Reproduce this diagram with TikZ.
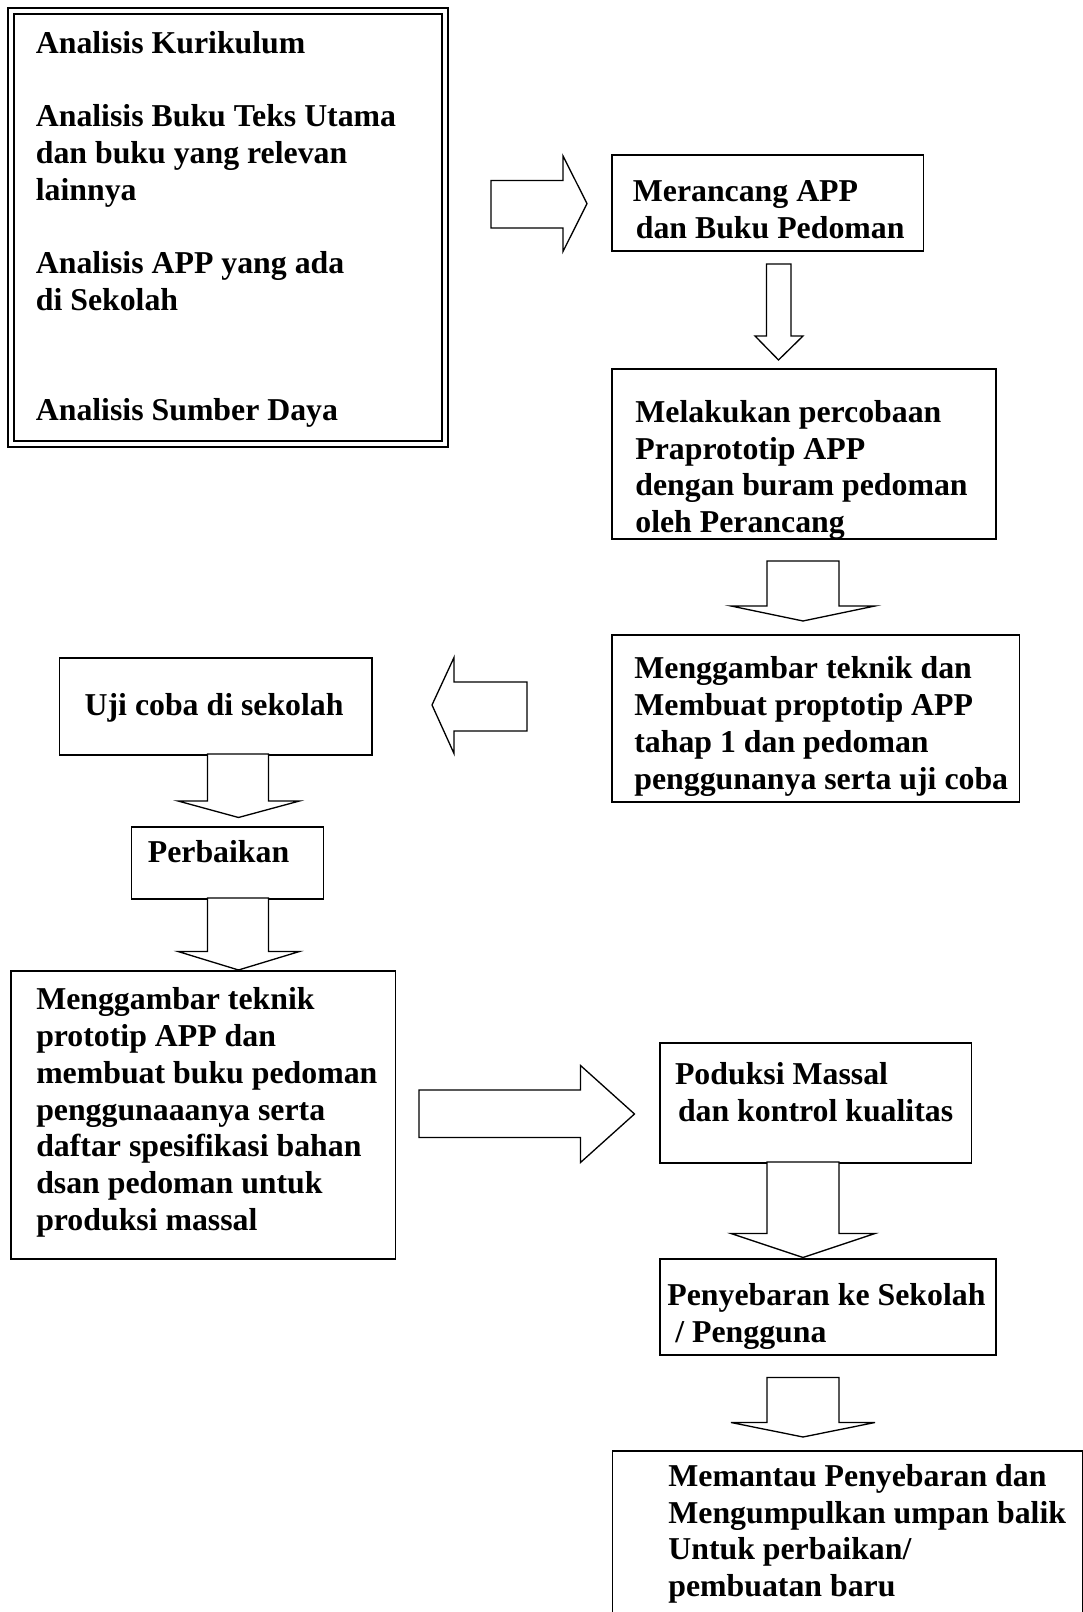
\documentclass[tikz,border=0pt]{standalone}
\usepackage{fontspec}
\setmainfont{Liberation Serif}
\usepackage{tikz}

\begin{document}
\begin{tikzpicture}[box/.style={draw,line width=0.9pt,anchor=north west,inner sep=0pt},
  txt/.style={anchor=north west,inner sep=0pt,align=left,font=\fontsize{18.1pt}{20.9pt}\selectfont\bfseries},
  blk/.style={draw,fill=white,line width=0.75pt,line join=miter}]
\useasboundingbox (0,0) rectangle (21.66,32.24);
\clip (0,0) rectangle (21.66,32.24);
\node[box,double,double distance=2.5pt,minimum width=8.68cm,minimum height=8.66cm] (analisis) at (0.2,32.04) {};
\node[box,minimum width=6.23cm,minimum height=1.92cm] (rancang) at (12.22,29.16) {};
\node[box,minimum width=7.68cm,minimum height=3.39cm] (coba) at (12.22,24.87) {};
\node[box,minimum width=8.15cm,minimum height=3.34cm] (gambar) at (12.22,19.55) {};
\node[box,minimum width=6.248cm,minimum height=1.93cm] (uji) at (1.172,19.09) {};
\node[box,minimum width=3.84cm,minimum height=1.44cm] (perbaikan) at (2.616,15.72) {};
\node[box,minimum width=7.682cm,minimum height=5.756cm] (prototip) at (0.208,12.836) {};
\node[box,minimum width=6.23cm,minimum height=2.4cm] (produksi) at (13.18,11.40) {};
\node[box,minimum width=6.72cm,minimum height=1.92cm] (sebar) at (13.18,7.08) {};
\node[box,minimum width=9.4cm,minimum height=4cm] (pantau) at (12.23,3.24) {};
\node[txt] (analisis-t) at (0.71,31.694) {\strut Analisis Kurikulum\\ \strut\\
  Analisis Buku Teks Utama\\ dan buku yang relevan\\ lainnya\\ \strut\\
  Analisis APP yang ada\\ di Sekolah\\ \strut\\ \strut\\ Analisis Sumber Daya};
\node[txt] (rancang-t) at (12.65,28.724) {\strut Merancang APP\\ \hspace*{1.7pt}dan Buku Pedoman};
\node[txt] (coba-t) at (12.70,24.314) {\strut Melakukan percobaan\\ Praprototip APP\\
  dengan buram pedoman\\ oleh Perancang};
\node[txt] (gambar-t) at (12.68,19.184) {\strut Menggambar teknik dan\\ Membuat proptotip APP\\
  tahap 1 dan pedoman\\ penggunanya serta uji coba};
\node[txt] (uji-t) at (1.686,18.444) {\strut Uji coba di sekolah};
\node[txt] (perbaikan-t) at (2.95,15.514) {\strut Perbaikan};
\node[txt] (prototip-t) at (0.718,12.564) {\strut Menggambar teknik\\ prototip APP dan\\
  membuat buku pedoman\\ penggunaaanya serta\\ daftar spesifikasi bahan\\
  dsan pedoman untuk\\ produksi massal};
\node[txt] (produksi-t) at (13.494,11.074) {\strut Poduksi Massal\\ \hspace*{1.7pt}dan kontrol kualitas};
\node[txt] (sebar-t) at (13.34,6.654) {\strut Penyebaran ke Sekolah\\ \hspace*{.25em}/ Pengguna};
\node[txt] (pantau-t) at (13.36,3.034) {\strut Memantau Penyebaran dan\\ Mengumpulkan umpan balik\\
  Untuk perbaikan/\\ pembuatan baru};
\draw[blk] (9.82,28.63) -- (11.26,28.63) -- (11.26,29.12) -- (11.74,28.168) -- (11.26,27.21) -- (11.26,27.68) -- (9.82,27.68) -- cycle;
\draw[blk] (15.33,26.96) -- (15.82,26.96) -- (15.82,25.52) -- (16.06,25.52) -- (15.57,25.04) -- (15.10,25.52) -- (15.33,25.52) -- cycle;
\draw[blk] (15.34,21.02) -- (16.78,21.02) -- (16.78,20.12) -- (17.50,20.12) -- (16.06,19.82) -- (14.62,20.12) -- (15.34,20.12) -- cycle;
\draw[blk] (10.54,18.60) -- (9.08,18.60) -- (9.08,19.09) -- (8.64,18.14) -- (9.08,17.17) -- (9.08,17.62) -- (10.54,17.62) -- cycle;
\draw[blk] (4.15,17.16) -- (5.37,17.16) -- (5.37,16.22) -- (5.99,16.22) -- (4.77,15.89) -- (3.56,16.22) -- (4.15,16.22) -- cycle;
\draw[blk] (4.15,14.28) -- (5.37,14.28) -- (5.37,13.21) -- (5.99,13.21) -- (4.77,12.84) -- (3.56,13.21) -- (4.15,13.21) -- cycle;
\draw[blk] (8.38,10.44) -- (11.61,10.44) -- (11.61,10.93) -- (12.69,9.96) -- (11.61,8.99) -- (11.61,9.49) -- (8.38,9.49) -- cycle;
\draw[blk] (15.34,9.00) -- (16.78,9.00) -- (16.78,7.57) -- (17.50,7.57) -- (16.06,7.09) -- (14.62,7.57) -- (15.34,7.57) -- cycle;
\draw[blk] (15.34,4.69) -- (16.78,4.69) -- (16.78,3.79) -- (17.50,3.79) -- (16.06,3.50) -- (14.62,3.79) -- (15.34,3.79) -- cycle;
\end{tikzpicture}
\end{document}
